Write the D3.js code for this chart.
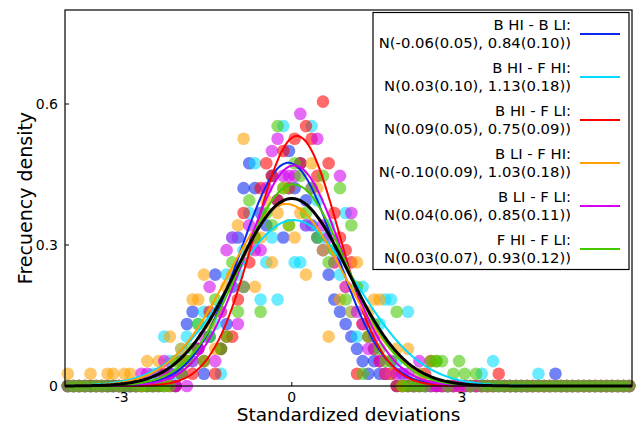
<!DOCTYPE html>
<html>
<head>
<meta charset="utf-8">
<script src="https://cdn.jsdelivr.net/npm/d3@7"></script>
<style>
  body { margin: 0; background: #fff; }
  svg { display: block; }
</style>
</head>
<body>
<svg id="chart" width="637" height="425"></svg>
<script>
// ── Data ────────────────────────────────────────────────────────────────────
const xTicks = [-3, 0, 3]
const yTicks = [0, 0.3, 0.6]
const binCenters = d3.range(-3.95, 6, 0.1).map(v => +v.toFixed(2))

const seriesTitles = ['B HI - B LI:', 'B HI - F HI:', 'B HI - F LI:', 'B LI - F HI:', 'B LI - F LI:', 'F HI - F LI:']
const fitLabels = [
  'N(-0.06(0.05), 0.84(0.10))',
  'N(0.03(0.10), 1.13(0.18))',
  'N(0.09(0.05), 0.75(0.09))',
  'N(-0.10(0.09), 1.03(0.18))',
  'N(0.04(0.06), 0.85(0.11))',
  'N(0.03(0.07), 0.93(0.12))',
]
const fitMeans = [-0.06, 0.03, 0.09, -0.10, 0.04, 0.03]
const fitSds = [0.84, 1.13, 0.75, 1.03, 0.85, 0.93]
const lineColors = ['#0a28f0', '#00dcff', '#ff0000', '#ffa000', '#d200f0', '#46c800']

// histogram densities (non-empty bins only), [bin centre, density]
const bHiBLi = [[-2.15,.026],[-1.95,.053],[-1.85,.132],[-1.75,.158],[-1.65,.079],[-1.55,.026],[-1.45,.105],[-1.35,.237],[-1.25,.079],[-1.15,.132],[-1.05,.211],[-0.95,.316],[-0.85,.421],[-0.75,.474],[-0.65,.421],[-0.55,.368],[-0.45,.342],[-0.35,.447],[-0.25,.395],[-0.15,.316],[-0.05,.5],[0.05,.421],[0.15,.474],[0.25,.395],[0.35,.342],[0.45,.316],[0.55,.289],[0.65,.237],[0.75,.184],[0.85,.158],[0.95,.132],[1.05,.105],[1.15,.079],[1.25,.053],[1.35,.026],[1.45,.053],[1.55,.026],[1.65,.026],[1.75,.026],[4.65,.026]]
const bHiFHi = [[-2.45,.026],[-2.35,.026],[-2.25,.105],[-2.15,.053],[-2.05,.026],[-1.95,.079],[-1.85,.105],[-1.75,.053],[-1.65,.132],[-1.55,.158],[-1.45,.105],[-1.35,.132],[-1.25,.026],[-1.15,.237],[-1.05,.316],[-0.95,.237],[-0.85,.289],[-0.75,.368],[-0.65,.474],[-0.55,.184],[-0.45,.263],[-0.35,.316],[-0.25,.184],[-0.15,.553],[-0.05,.421],[0.05,.263],[0.15,.263],[0.25,.342],[0.35,.553],[0.45,.395],[0.55,.316],[0.65,.342],[0.75,.289],[0.85,.237],[0.95,.368],[1.05,.158],[1.15,.105],[1.25,.211],[1.35,.132],[1.45,.079],[1.55,.132],[1.65,.184],[1.75,.184],[1.85,.053],[1.95,.026],[2.05,.158],[2.25,.026],[2.55,.053],[3.35,.026],[3.55,.053],[4.35,.026]]
const bHiFLi = [[-2.25,.026],[-1.95,.026],[-1.85,.053],[-1.75,.026],[-1.65,.079],[-1.55,.053],[-1.45,.158],[-1.35,.026],[-1.25,.079],[-1.15,.105],[-1.05,.105],[-0.95,.184],[-0.85,.368],[-0.75,.263],[-0.65,.316],[-0.55,.421],[-0.45,.474],[-0.35,.447],[-0.25,.395],[-0.15,.5],[-0.05,.421],[0.05,.526],[0.15,.474],[0.25,.553],[0.35,.526],[0.45,.447],[0.55,.605],[0.65,.474],[0.75,.368],[0.85,.316],[0.95,.289],[1.05,.263],[1.15,.026],[1.25,.132],[1.35,.105],[1.45,.079],[1.55,.053],[1.65,.026],[1.75,.026],[2.35,.026],[2.45,.053],[3.65,.026]]
const bLiFHi = [[-3.95,.026],[-3.55,.026],[-3.25,.026],[-3.15,.026],[-2.95,.026],[-2.85,.026],[-2.55,.053],[-2.35,.053],[-2.15,.105],[-2.05,.053],[-1.95,.079],[-1.85,.053],[-1.75,.184],[-1.65,.184],[-1.55,.237],[-1.45,.132],[-1.35,.079],[-1.25,.158],[-1.15,.211],[-1.05,.237],[-0.95,.342],[-0.85,.526],[-0.75,.289],[-0.65,.211],[-0.55,.316],[-0.45,.395],[-0.35,.263],[-0.25,.368],[-0.15,.421],[-0.05,.342],[0.05,.316],[0.15,.368],[0.25,.237],[0.35,.474],[0.45,.421],[0.55,.289],[0.65,.105],[0.75,.263],[0.85,.184],[0.95,.211],[1.05,.158],[1.15,.263],[1.25,.132],[1.35,.158],[1.45,.184],[1.55,.184],[1.65,.026],[1.75,.026],[1.85,.079],[2.05,.079],[2.25,.026],[2.55,.053]]
const bLiFLi = [[-2.65,.026],[-2.55,.026],[-2.35,.026],[-2.25,.053],[-2.15,.026],[-1.95,.026],[-1.75,.053],[-1.65,.079],[-1.55,.105],[-1.45,.211],[-1.35,.053],[-1.25,.158],[-1.15,.289],[-1.05,.316],[-0.95,.132],[-0.85,.211],[-0.75,.342],[-0.65,.289],[-0.55,.289],[-0.45,.421],[-0.35,.5],[-0.25,.526],[-0.15,.447],[-0.05,.447],[0.05,.447],[0.15,.579],[0.25,.342],[0.35,.421],[0.45,.526],[0.55,.342],[0.65,.316],[0.75,.263],[0.85,.447],[0.95,.211],[1.05,.368],[1.15,.158],[1.25,.132],[1.35,.079],[1.45,.105],[1.55,.053],[1.65,.026],[1.75,.053],[1.85,.026],[1.95,.026],[2.05,.026],[2.25,.053]]
const fHiFLi = [[-2.05,.053],[-1.95,.026],[-1.85,.053],[-1.75,.079],[-1.65,.132],[-1.55,.053],[-1.45,.105],[-1.35,.184],[-1.25,.079],[-1.15,.105],[-1.05,.263],[-0.95,.158],[-0.85,.211],[-0.75,.395],[-0.65,.316],[-0.55,.158],[-0.45,.368],[-0.35,.342],[-0.25,.553],[-0.15,.421],[-0.05,.342],[0.05,.474],[0.15,.447],[0.25,.368],[0.35,.421],[0.45,.316],[0.55,.447],[0.65,.263],[0.75,.289],[0.85,.421],[0.95,.184],[1.05,.342],[1.15,.211],[1.25,.026],[1.35,.105],[1.45,.132],[1.55,.079],[1.65,.053],[1.75,.053],[1.85,.158],[2.45,.053],[2.55,.053],[2.65,.053],[2.85,.026],[2.95,.053],[3.05,.026],[3.25,.026]]

const histograms = [bHiBLi, bHiFHi, bHiFLi, bLiFHi, bLiFLi, fHiFLi]

// ── Layout ──────────────────────────────────────────────────────────────────
const svg = d3.select('#chart')
const font = 'DejaVu Sans, sans-serif'
const x = d3.scaleLinear().domain([-4, 6]).range([65, 632])
const y = d3.scaleLinear().domain([0, 0.8]).range([386, 10])

// full bin set: empty bins drawn at zero
function withEmptyBins(hist) {
  const filled = new Set(hist.map(d => Math.round(d[0] * 100)))
  const empty = binCenters.filter(c => !filled.has(Math.round(c * 100))).map(c => [c, 0])
  return empty.concat(hist)
}

const dots = svg.append('g')
histograms.forEach((hist, i) => {
  dots.append('g').selectAll('circle')
    .data(withEmptyBins(hist))
    .join('circle')
    .attr('cx', d => x(d[0])).attr('cy', d => y(d[1]))
    .attr('r', 6.3)
    .attr('fill', lineColors[i]).attr('fill-opacity', 0.58)
})

// fitted normal curves
const normal = (mu, sd) => v => Math.exp(-0.5 * ((v - mu) / sd) ** 2) / (sd * Math.sqrt(2 * Math.PI))
const xs = d3.range(-4, 6.001, 0.02)
const line = d3.line().x(d => x(d[0])).y(d => y(d[1]))

const curves = svg.append('g').attr('fill', 'none')
fitMeans.forEach((mu, i) => {
  const f = normal(mu, fitSds[i])
  curves.append('path')
    .attr('d', line(xs.map(v => [v, f(v)])))
    .attr('stroke', lineColors[i]).attr('stroke-width', 2)
})
const std = normal(0, 1)
curves.append('path')
  .attr('d', line(xs.map(v => [v, std(v)])))
  .attr('stroke', '#000').attr('stroke-width', 3)

// ── Frame & axes ────────────────────────────────────────────────────────────
svg.append('rect')
  .attr('x', 65).attr('y', 10).attr('width', 567).attr('height', 376)
  .attr('fill', 'none').attr('stroke', '#000').attr('stroke-width', 1.2)

xTicks.forEach(t => {
  svg.append('line').attr('x1', x(t)).attr('x2', x(t)).attr('y1', 386).attr('y2', 382)
    .attr('stroke', '#000').attr('stroke-width', 1)
  svg.append('text').attr('x', x(t)).attr('y', 402)
    .attr('text-anchor', 'middle').attr('font-family', font).attr('font-size', 14)
    .text(t)
})
yTicks.forEach(t => {
  svg.append('line').attr('x1', 65).attr('x2', 69).attr('y1', y(t)).attr('y2', y(t))
    .attr('stroke', '#000').attr('stroke-width', 1)
  svg.append('text').attr('x', 58).attr('y', y(t) + 5)
    .attr('text-anchor', 'end').attr('font-family', font).attr('font-size', 14)
    .text(t)
})

svg.append('text').attr('x', 348.5).attr('y', 421)
  .attr('text-anchor', 'middle').attr('font-family', font).attr('font-size', 18.5)
  .text('Standardized deviations')
svg.append('text').attr('transform', 'translate(32,198) rotate(-90)')
  .attr('text-anchor', 'middle').attr('font-family', font).attr('font-size', 19)
  .text('Frecuency density')

// ── Legend ──────────────────────────────────────────────────────────────────
const legend = svg.append('g')
legend.append('rect')
  .attr('x', 373).attr('y', 12.5).attr('width', 256).attr('height', 257)
  .attr('fill', '#fff').attr('stroke', '#000').attr('stroke-width', 1.2)
seriesTitles.forEach((title, i) => {
  const cy = 34 + i * 43
  legend.append('text').attr('x', 571).attr('y', cy - 4)
    .attr('text-anchor', 'end').attr('font-family', font).attr('font-size', 14.8)
    .text(title)
  legend.append('text').attr('x', 571).attr('y', cy + 14)
    .attr('text-anchor', 'end').attr('font-family', font).attr('font-size', 14.8)
    .text(fitLabels[i])
  legend.append('line').attr('x1', 580).attr('x2', 620).attr('y1', cy).attr('y2', cy)
    .attr('stroke', lineColors[i]).attr('stroke-width', 2)
})
</script>
</body>
</html>
